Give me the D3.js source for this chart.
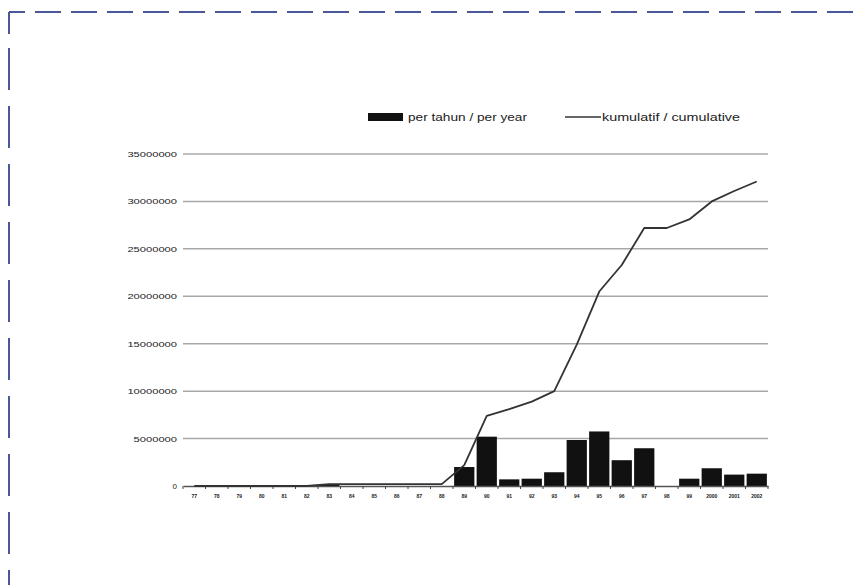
<!DOCTYPE html>
<html><head><meta charset="utf-8">
<script src="https://cdn.jsdelivr.net/npm/d3@7"></script>
<style>html,body{margin:0;padding:0;background:#fff;}svg{display:block;}</style>
</head><body>
<svg id="chart" width="853" height="585"></svg>
<script>
const years = ["77","78","79","80","81","82","83","84","85","86","87","88","89","90","91","92","93","94","95","96","97","98","99","2000","2001","2002"];
const perYear = [0,0,0,0,0,0,200000,0,0,0,0,0,2000000,5200000,700000,770000,1450000,4850000,5750000,2720000,3980000,0,770000,1870000,1200000,1300000];
const cumulative = [0,0,0,0,0,0,200000,200000,200000,200000,200000,200000,2200000,7400000,8100000,8900000,10000000,14900000,20500000,23300000,27200000,27200000,28100000,30000000,31100000,32100000];
const yTicks = [0,5000000,10000000,15000000,20000000,25000000,30000000,35000000];
const legendLabels = ["per tahun / per year","kumulatif / cumulative"];

const svg = d3.select("#chart");
const W = 853, H = 585;

// dashed frame
svg.append("line").attr("x1",9).attr("y1",12).attr("x2",W+5).attr("y2",12)
  .attr("stroke","#4a5899").attr("stroke-width",2).attr("stroke-dasharray","16,10,26,10,26,10,26,10,26,10,26,10,26,10,26,10,26,10,26,10,26,10,26,10,26,10,26,10,26,10,26,10,26,10,26,10,26,10,26,10,26,10,26,10,26,10,26,10,26,10");
svg.append("line").attr("x1",9).attr("y1",12).attr("x2",9).attr("y2",H+5)
  .attr("stroke","#4a5899").attr("stroke-width",2).attr("stroke-dasharray","22,14,42,16,42,16,42,16,42,16,42,16,42,16,42,16,42,16,42,16");

const x0 = 183, x1 = 768, yTop = 154, yBot = 486;
const x = d3.scaleBand().domain(years).range([x0,x1]).paddingInner(0.1).paddingOuter(0.05);
const xb = d3.scaleBand().domain(years).range([x0,x1]);
const y = d3.scaleLinear().domain([0,35000000]).range([yBot,yTop]);

// gridlines
svg.append("g").selectAll("line").data(yTicks.filter(d=>d>0)).join("line")
  .attr("x1",x0).attr("x2",x1).attr("y1",d=>y(d)).attr("y2",d=>y(d))
  .attr("stroke","#a8a8a8").attr("stroke-width",1.5);

// y labels
svg.append("g").selectAll("text").data(yTicks).join("text")
  .attr("x",177).attr("y",d=>y(d)+3)
  .attr("text-anchor","end")
  .attr("font-family","Liberation Sans, Arial, sans-serif")
  .attr("font-size",8).attr("fill","#222")
  .each(function(d){ if(d>0){ d3.select(this).attr("textLength", String(d).length*6.2).attr("lengthAdjust","spacingAndGlyphs"); } })
  .text(d=>d);

// bars
svg.append("g").selectAll("rect").data(years.map((k,i)=>({k,v:perYear[i]}))).join("rect")
  .attr("x",d=>x(d.k)).attr("width",x.bandwidth())
  .attr("y",d=>y(d.v)).attr("height",d=>yBot-y(d.v))
  .attr("fill","#111");

// x axis
const xAxis = d3.axisBottom(xb).tickSize(0).tickFormat("");
const ga = svg.append("g").attr("transform",`translate(0,${yBot})`).call(xAxis);
ga.select(".domain").attr("stroke","#555").attr("stroke-width",1.5);
svg.append("g").selectAll("line").data(d3.range(years.length+1)).join("line")
  .attr("x1",i=>x0+i*xb.step()).attr("x2",i=>x0+i*xb.step())
  .attr("y1",yBot).attr("y2",yBot+3).attr("stroke","#444").attr("stroke-width",1);
svg.append("g").selectAll("text").data(years).join("text")
  .attr("x",d=>xb(d)+xb.bandwidth()/2).attr("y",yBot+12)
  .attr("text-anchor","middle")
  .attr("font-family","Liberation Sans, Arial, sans-serif")
  .attr("font-size",5).attr("font-weight","bold").attr("fill","#222")
  .text(d=>d);

// cumulative line
const line = d3.line().x((d,i)=>xb(years[i])+xb.bandwidth()/2).y(d=>y(d));
svg.append("path").datum(cumulative).attr("d",line)
  .attr("fill","none").attr("stroke","#333").attr("stroke-width",1.8).attr("stroke-linejoin","round");

// legend
svg.append("rect").attr("x",368).attr("y",113).attr("width",35).attr("height",8).attr("fill","#111");
svg.append("text").attr("x",408).attr("y",121)
  .attr("font-family","Liberation Sans, Arial, sans-serif").attr("font-size",11).attr("fill","#222")
  .attr("textLength",119).attr("lengthAdjust","spacingAndGlyphs").text(legendLabels[0]);
svg.append("line").attr("x1",565).attr("x2",601).attr("y1",117).attr("y2",117).attr("stroke","#333").attr("stroke-width",1.5);
svg.append("text").attr("x",602).attr("y",121)
  .attr("font-family","Liberation Sans, Arial, sans-serif").attr("font-size",11).attr("fill","#222")
  .attr("textLength",138).attr("lengthAdjust","spacingAndGlyphs").text(legendLabels[1]);
</script>
</body></html>
